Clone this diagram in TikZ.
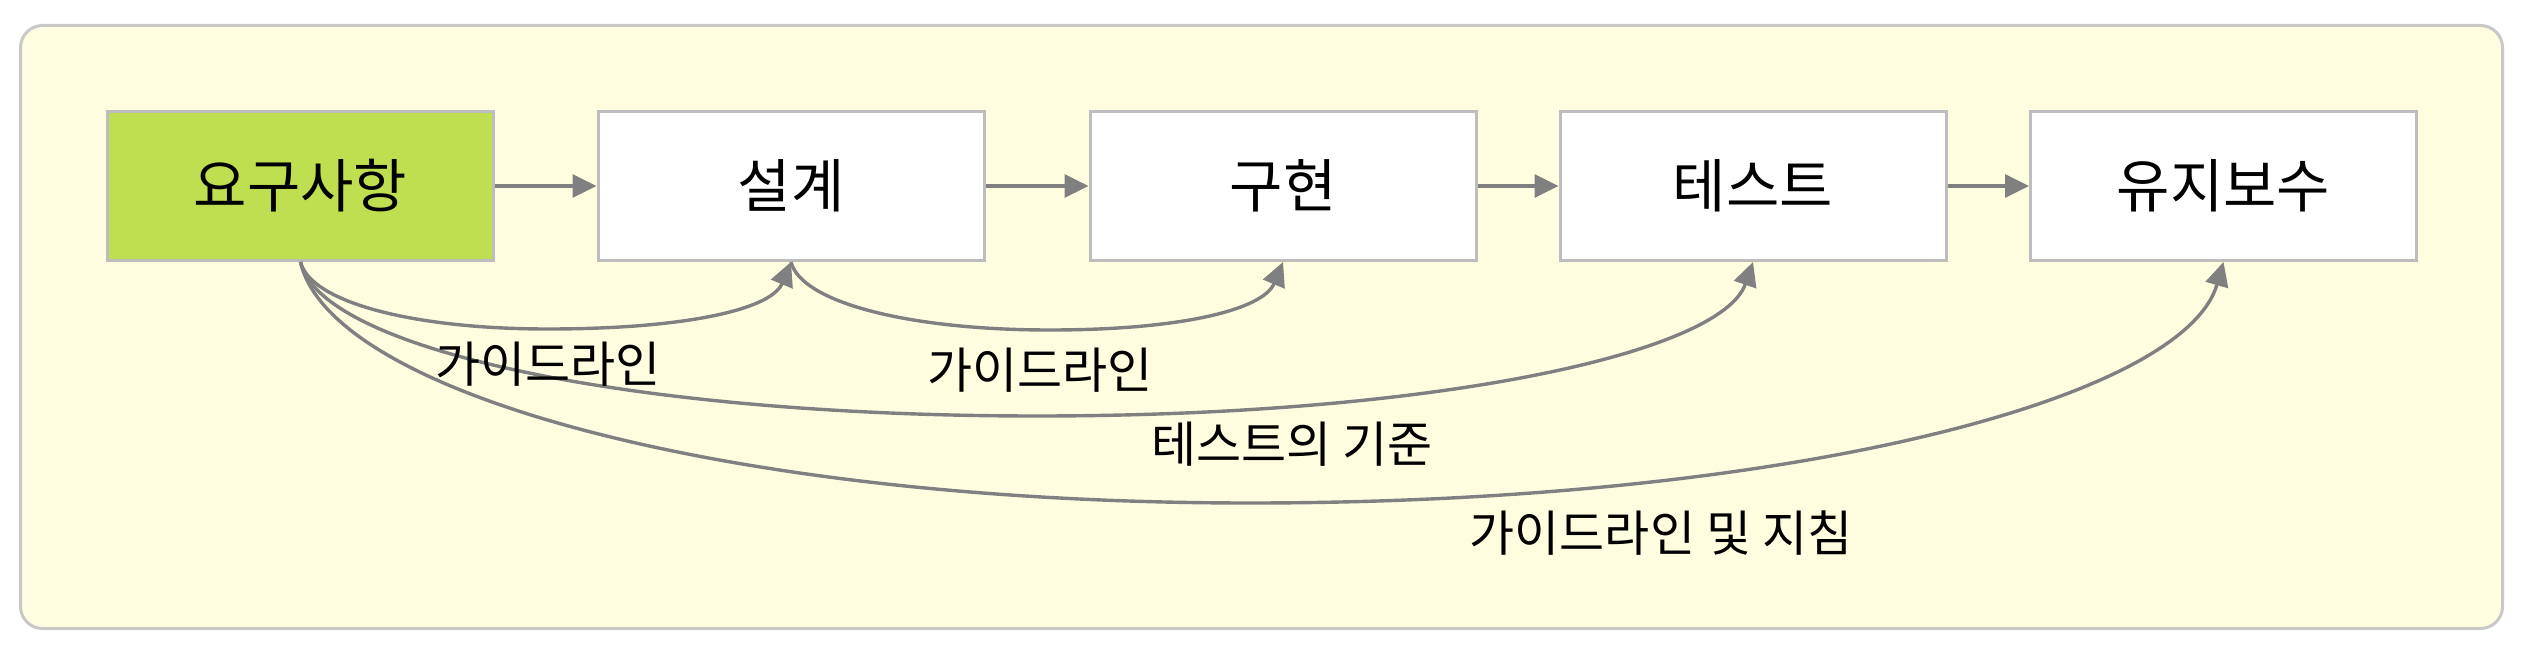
\documentclass[tikz,border=0pt]{standalone}
\usepackage{fontspec}
\setmainfont{Noto Sans CJK KR}
\usetikzlibrary{arrows.meta}
\definecolor{bgyellow}{HTML}{FFFDE0}
\definecolor{framegray}{HTML}{C8C8C8}
\definecolor{boxgray}{HTML}{BDBDBD}
\definecolor{arrowgray}{HTML}{808080}
\definecolor{reqgreen}{HTML}{BFDE50}
\tikzset{
  stagebox/.style={draw=boxgray, line width=1.5pt, fill=white, minimum width=193pt,
    minimum height=74.5pt, inner sep=0pt, font=\fontsize{29pt}{34pt}\selectfont},
  flowarrow/.style={draw=arrowgray, line width=1.7pt,
    -{Triangle[length=12pt,width=11.5pt]}},
  edgelabel/.style={inner sep=0pt, font=\fontsize{24.5pt}{29pt}\selectfont}
}
\begin{document}
\begin{tikzpicture}[x=0.5pt,y=-0.5pt]
\useasboundingbox (0,0) rectangle (2530,652);
\draw[draw=framegray, line width=1.5pt, fill=bgyellow, rounded corners=11pt]
  (20.5,25.5) rectangle (2502.5,628.5);

\node[stagebox, fill=reqgreen] (req) at (300.5,186) {요구사항};
\node[stagebox] (des) at (791,186) {설계};
\node[stagebox] (imp) at (1283,186) {구현};
\node[stagebox] (tst) at (1753,186) {테스트};
\node[stagebox] (mnt) at (2223.5,186) {유지보수};

\draw[flowarrow] (req.east) -- (des.west);
\draw[flowarrow] (des.east) -- (imp.west);
\draw[flowarrow] (imp.east) -- (tst.west);
\draw[flowarrow] (tst.east) -- (mnt.west);

% curved dependencies
\draw[flowarrow] (req.south) .. controls +(10,40) and +(-136,0) .. (548,329)
  .. controls +(135,0) and +(-20,48) .. (des.south);
\draw[flowarrow] (des.south) .. controls +(10,40) and +(-143,0) .. (1050,330)
  .. controls +(130,0) and +(-20,48) .. (imp.south);
\draw[flowarrow] (req.south) .. controls +(20,88) and +(-405,0) .. (1037,416)
  .. controls +(394,0) and +(-32,92) .. (tst.south);
\draw[flowarrow] (req.south) .. controls +(30,132) and +(-522,0) .. (1250,503)
  .. controls +(535,0) and +(-40,138) .. (mnt.south);

\node[edgelabel] (l1) at (548,364) {가이드라인};
\node[edgelabel] (l2) at (1040,370) {가이드라인};
\node[edgelabel] (l3) at (1292,444) {테스트의 기준};
\node[edgelabel] (l4) at (1661,533) {가이드라인 및 지침};
\end{tikzpicture}
\end{document}
